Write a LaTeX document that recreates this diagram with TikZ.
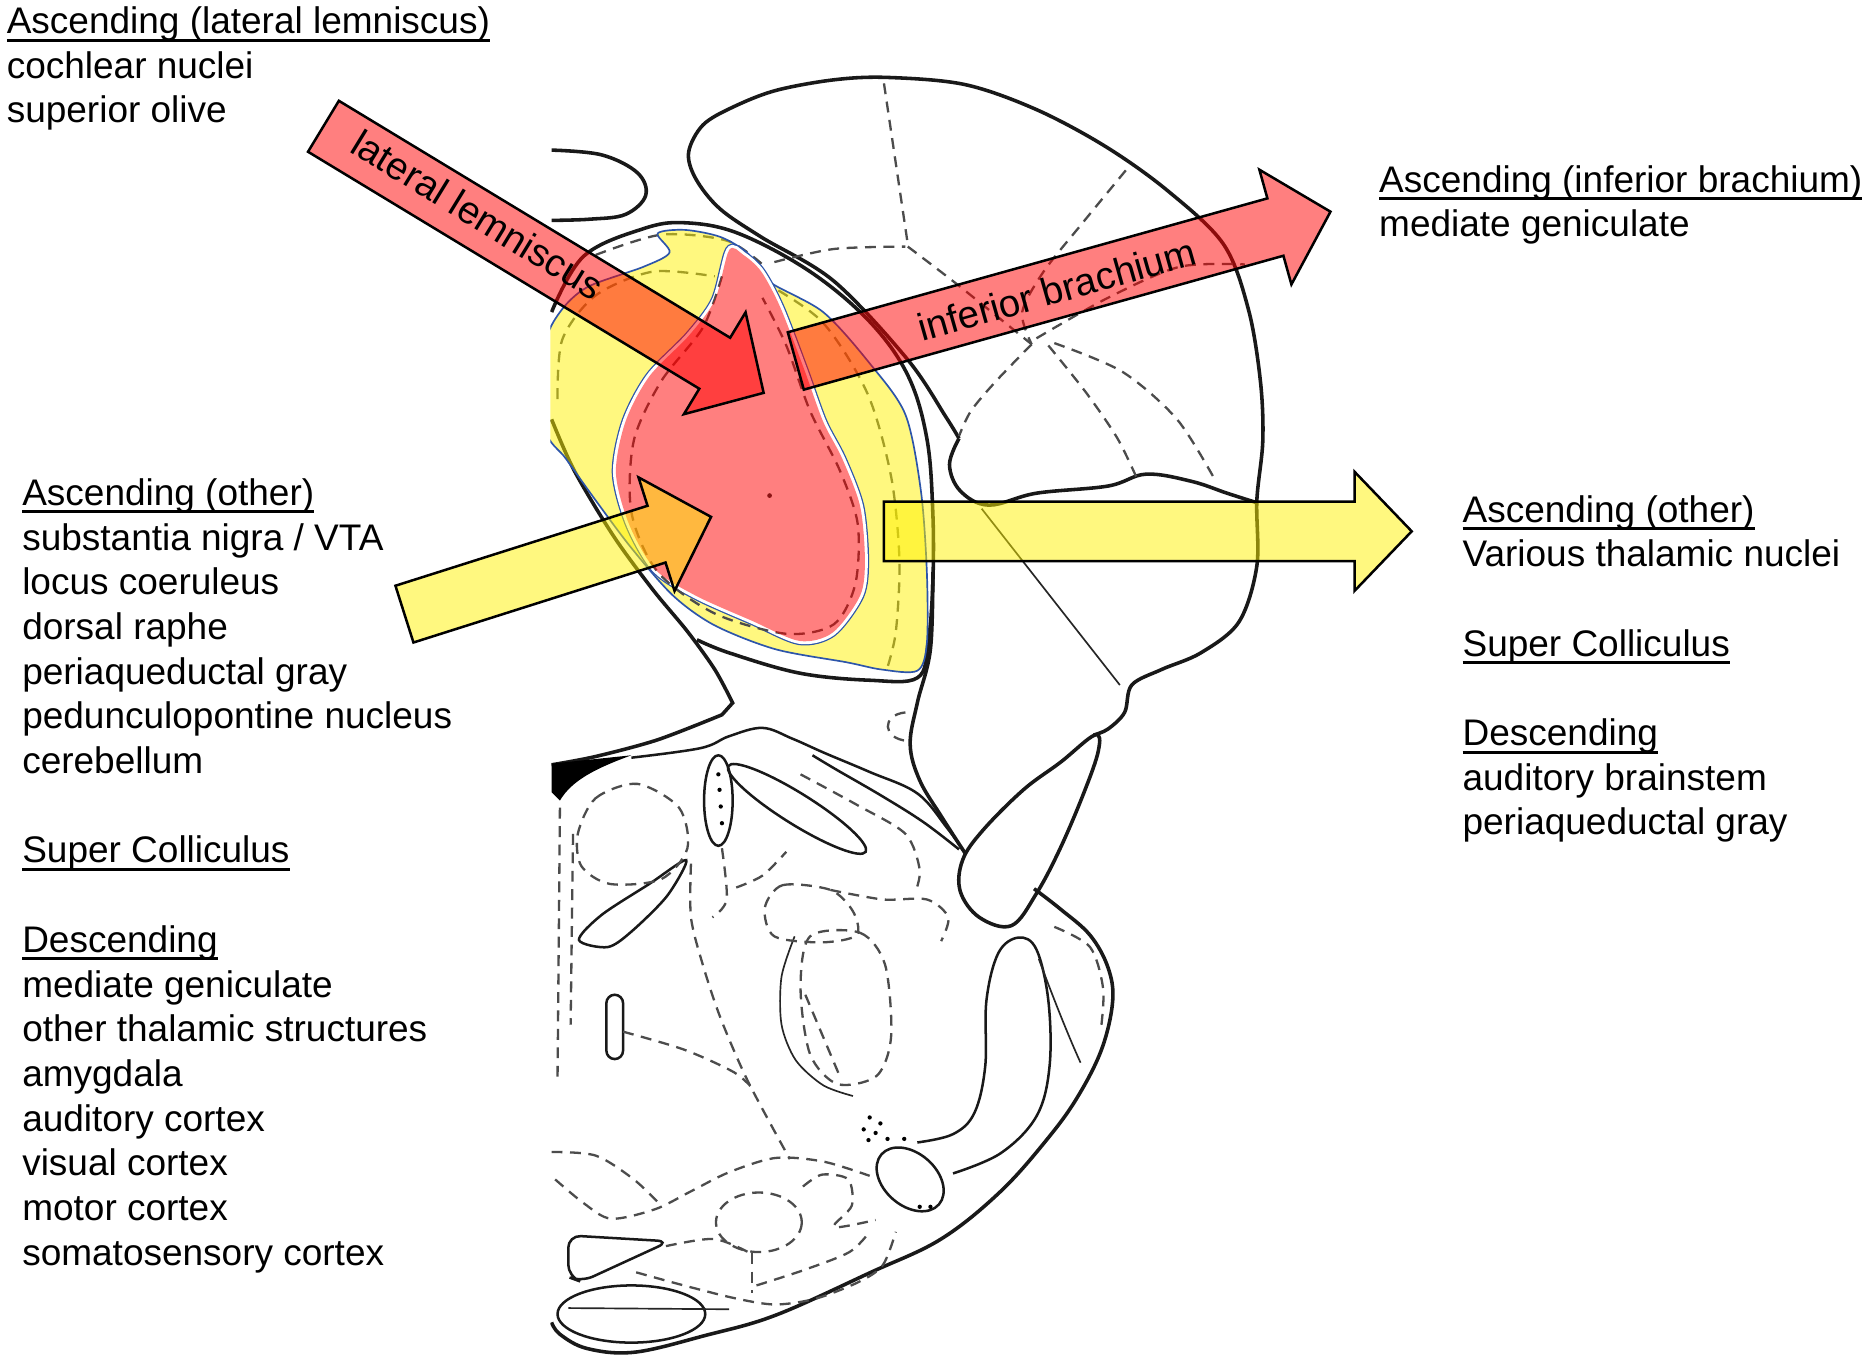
\documentclass[tikz,border=0pt]{standalone}
\usepackage{fontspec}
\setmainfont{Liberation Sans}

\definecolor{regionblue}{RGB}{45,85,170}
\definecolor{dotred}{RGB}{140,20,20}
\newcommand{\ulin}[1]{\setbox0=\hbox{#1}\rlap{\copy0}\rule[-1.9pt]{\wd0}{0.7pt}}
\newcommand{\blockarrow}[4]{\draw[#1, shift={#2}, rotate=#3] (0,25) -- ({#4-48},25) -- ({#4-48},50) -- (#4,0) -- ({#4-48},-50) -- ({#4-48},-25) -- (0,-25) -- cycle;}

\begin{document}
\begin{tikzpicture}[x=0.01cm, y=-0.01cm,
  atlas/.style={line width=0.85pt, black!90},
  midline/.style={line width=0.6pt, black!90},
  thinline/.style={line width=0.4pt, black!85},
  dashline/.style={line width=0.55pt, black!70, dash pattern=on 2.6pt off 1.8pt},
  redarrow/.style={draw=black, line width=0.6pt, fill=red, fill opacity=0.5},
  yellowarrow/.style={draw=black, line width=0.6pt, fill=yellow, fill opacity=0.5},
  txt/.style={anchor=north west, inner sep=0pt, align=left, font=\fontsize{8.83pt}{10.67pt}\selectfont},
  lbl/.style={inner sep=0pt, font=\fontsize{9.2pt}{11pt}\selectfont}]
\fill[white] (0,0) rectangle (1568,1146);
\useasboundingbox (0,0) rectangle (1568,1146);

\begin{scope}
\clip (462,0) rectangle (1568,1146);
% upper lobe and outer edge
\draw[atlas] plot[smooth, tension=0.55] coordinates {(805,368) (794,350) (762,302) (700,236) (639,199) (604,175) (584,150) (578,128) (590,105) (615,90) (651,76) (700,67) (745,65) (810,71) (870,92) (928,123) (980,160) (1027,205) (1048,260) (1058,320) (1060,370) (1055,420) (1055,475) (1040,522) (1008,548) (975,562) (950,575) (944,598) (930,612) (918,617)};
\draw[atlas] plot[smooth, tension=0.6] coordinates {(805,368) (797,390) (806,412) (830,424) (870,414) (930,408) (962,398) (1000,404) (1030,414) (1055,422)};
\draw[thinline] (824,427) -- (940,575);
\draw[atlas] plot[smooth, tension=0.6] coordinates {(463,126) (505,130) (535,145) (542,164) (525,180) (495,184) (463,185)};
% colliculus outline
\draw[atlas] plot[smooth, tension=0.6] coordinates {(463,262) (490,215) (540,192) (575,187) (620,196) (680,228) (730,270) (762,315) (778,368) (783,430) (783,490) (779,540) (770,569) (730,571) (671,565) (612,548) (585,537)};
\draw[atlas] plot[smooth, tension=0.5] coordinates {(463,352) (482,395) (515,450) (548,495) (577,530) (600,562) (615,590)} -- plot[smooth, tension=0.5] coordinates {(606,600) (552,621) (500,635) (463,642)};
\fill (463,641) -- (530,634) .. controls (500,645) and (480,655) .. (470,672) -- (463,665) -- cycle;
\draw[midline] plot[smooth, tension=0.6] coordinates {(530,636) (588,628) (612,618) (640,611) (665,620) (692,632) (730,648) (770,666) (795,695) (810,716)};
\draw[midline] plot[smooth, tension=0.6] coordinates {(682,634) (702,646) (740,668) (775,690) (805,713)};
\draw[atlas] plot[smooth, tension=0.6] coordinates {(783,480) (781,545) (770,590) (764,625) (772,655) (790,685) (810,716)};
% tongue and lower outline
\draw[atlas] plot[smooth cycle, tension=0.6] coordinates {(919,617) (890,640) (859,663) (825,697) (808,722) (806,748) (822,770) (849,777) (870,750) (890,712) (910,665) (922,630)};
\draw[atlas] plot[smooth, tension=0.6] coordinates {(868,746) (890,763) (915,785) (930,812) (934,840) (925,880) (905,920) (880,955) (840,1000) (790,1040) (731,1068) (651,1104) (592,1121) (533,1135) (493,1132) (470,1120) (463,1110)};
\draw[midline] plot[smooth, tension=0.6] coordinates {(770,959) (800,952) (818,934) (827,895) (828,840) (838,800) (855,787) (870,797) (880,840) (881,895) (870,937) (840,968) (800,985)};
\draw[thinline] (872,805) .. controls (885,840) and (897,870) .. (907,892);
\draw[dashline] plot[smooth] coordinates {(885,778) (915,795) (926,830) (924,865)};
\draw[midline, rotate around={-41:(764,990)}] (764,990) ellipse (32 and 22);
\foreach \p in {(730,938),(739,943),(725,948),(735,951),(729,957),(745,956),(759,956),(772,1013),(781,1013)}
  \fill \p circle (1.8);
% small structures
\draw[thinline] plot[smooth] coordinates {(667,786) (656,820) (656,860) (668,890) (691,911) (716,920)};
\draw[dashline] plot[smooth cycle] coordinates {(680,786) (722,783) (743,810) (748,870) (736,903) (703,910) (680,885) (672,830)};
\draw[dashline] (676,835) -- (706,906);
\draw[midline, rounded corners=2pt] (509,835) rectangle (523,889);
\draw[midline, rounded corners=3pt] (477,1037) -- (562,1042) -- (488,1076) -- (477,1072) -- cycle;
\draw[midline] (530,1103) ellipse (62 and 24);
\draw[thinline] (477,1098) -- (612,1099);
\draw[midline] plot[smooth cycle] coordinates {(486,789) (505,768) (545,742) (576,722) (560,752) (530,782) (510,795)};
\draw[midline] (603,672) ellipse (12 and 38);
\foreach \p in {(603,650),(604,663),(605,677),(606,691)}
  \fill \p circle (1.8);
\draw[midline, rotate around={-32:(669,679)}] (669,679) ellipse (68 and 13);
% dashed borders below
\draw[dashline] plot[smooth cycle] coordinates {(485,700) (500,670) (535,658) (570,678) (577,712) (555,738) (512,742) (488,727)};
\draw[dashline] (470,678) -- (468,905);
\draw[dashline] (481,700) -- (479,860);
\draw[dashline] plot[smooth] coordinates {(580,725) (580,770) (590,810) (605,855) (628,908) (663,973)};
\draw[dashline] plot[smooth] coordinates {(606,712) (610,755) (598,770)};
\draw[dashline] plot[smooth] coordinates {(523,866) (574,881) (616,900) (632,914)};
\draw[dashline] plot[smooth] coordinates {(463,967) (500,970) (532,990) (555,1012)};
\draw[dashline] plot[smooth] coordinates {(466,990) (490,1010) (513,1023) (550,1015) (580,1000) (612,984) (651,972) (691,975) (730,987)};
\draw[dashline] (637,1026) ellipse (36 and 25);
\draw[dashline] plot[smooth] coordinates {(674,996) (690,986) (712,990) (715,1012) (700,1030) (735,1024)};
\draw[dashline] plot[smooth] coordinates {(534,1068) (574,1079) (618,1090) (651,1095) (685,1090) (721,1076) (741,1062) (752,1034)};
\draw[dashline] plot[smooth] coordinates {(635,1079) (675,1066) (713,1051) (730,1034)};
\draw[dashline] plot[smooth] coordinates {(559,1046) (599,1040) (628,1051)};
\draw[dashline] (631,1052) -- (631,1085);
\draw[dashline] plot[smooth cycle] coordinates {(642,762) (657,743) (697,747) (716,765) (719,785) (690,791) (650,786)};
\draw[dashline] plot[smooth] coordinates {(697,747) (741,755) (778,755) (796,770) (790,790)};
\draw[dashline] plot[smooth] coordinates {(618,745) (640,735) (660,715)};
\draw[dashline] plot[smooth] coordinates {(672,650) (720,676) (760,700) (772,730) (768,750)};
\draw[dashline] (760,598) .. controls (740,600) and (740,620) .. (762,622);
% dashed borders in upper lobe
\draw[dashline] (742,70) -- (762,205);
\draw[dashline] plot[smooth] coordinates {(650,220) (700,209) (760,207)};
\draw[dashline] plot[smooth] coordinates {(762,207) (800,236) (835,264) (866,289)};
\draw[dashline] plot[smooth] coordinates {(945,143) (908,188) (876,228) (858,262) (866,289)};
\draw[dashline] plot[smooth] coordinates {(866,289) (836,320) (815,345) (805,366)};
\draw[dashline] plot[smooth] coordinates {(880,290) (912,330) (938,368) (955,403)};
\draw[dashline] plot[smooth] coordinates {(885,288) (942,312) (988,352) (1020,403)};
\draw[dashline] plot[smooth] coordinates {(870,284) (930,250) (990,224) (1045,222)};
% dashed borders in colliculus
\draw[dashline] plot[smooth] coordinates {(500,214) (555,197) (610,202) (640,222)};
\draw[dashline] plot[smooth] coordinates {(468,335) (472,285) (500,248) (548,228) (600,232)};
\draw[dashline] plot[smooth] coordinates {(640,236) (690,270) (728,330) (748,400) (755,470) (752,530) (745,560)};
% coloured regions
\fill[yellow, fill opacity=0.5] plot[smooth cycle, tension=0.5] coordinates {(458,290) (470,262) (493,241) (540,224) (562,212) (552,196) (575,193) (605,199) (628,213) (645,236) (691,262) (730,305) (760,348) (773,412) (778,480) (778,540) (770,563) (740,562) (711,556) (651,545) (600,525) (565,500) (530,460) (500,420) (475,385) (458,360)};
\draw[regionblue, line width=0.4pt] plot[smooth cycle, tension=0.5] coordinates {(458,290) (470,262) (493,241) (540,224) (562,212) (552,196) (575,193) (605,199) (628,213) (645,236) (691,262) (730,305) (760,348) (773,412) (778,480) (778,540) (770,563) (740,562) (711,556) (651,545) (600,525) (565,500) (530,460) (500,420) (475,385) (458,360)};
\draw[regionblue, line width=2pt] plot[smooth cycle, tension=0.5] coordinates {(612,210) (624,214) (639,228) (655,258) (675,310) (691,354) (707,385) (722,425) (726,470) (722,500) (699,531) (671,538) (631,521) (584,500) (550,478) (528,440) (517,397) (525,354) (545,316) (578,282) (600,252)};
\filldraw[white, line width=1.4pt] plot[smooth cycle, tension=0.5] coordinates {(612,210) (624,214) (639,228) (655,258) (675,310) (691,354) (707,385) (722,425) (726,470) (722,500) (699,531) (671,538) (631,521) (584,500) (550,478) (528,440) (517,397) (525,354) (545,316) (578,282) (600,252)};
\draw[dashline] plot[smooth] coordinates {(606,232) (590,275) (555,320) (532,370) (530,430) (552,480) (600,515) (660,532) (700,524) (718,490) (720,440) (705,395) (680,345) (660,290) (640,250)};
\fill[red, fill opacity=0.5] plot[smooth cycle, tension=0.5] coordinates {(612,210) (624,214) (639,228) (655,258) (675,310) (691,354) (707,385) (722,425) (726,470) (722,500) (699,531) (671,538) (631,521) (584,500) (550,478) (528,440) (517,397) (525,354) (545,316) (578,282) (600,252)};
\fill[dotred] (646,416) circle (2);
\end{scope}

% arrows
\blockarrow{redarrow}{(271.5,106)}{-31.2}{432}
\blockarrow{redarrow}{(668,303)}{15.6}{466}
\blockarrow{yellowarrow}{(339.5,515.5)}{17.6}{270}
\blockarrow{yellowarrow}{(742,446)}{0}{443}
\node (lemnlabel) [lbl, rotate=-31.5] at (401,180) {lateral lemniscus};
\node (brachlabel) [lbl, rotate=15.8] at (887,243) {inferior brachium};

% lists
\node (lemnlist) [txt] at (5,5) {\ulin{Ascending (lateral lemniscus)}\\ cochlear nuclei\\ superior olive};
\node (leftlist) [txt] at (18,401) {\ulin{Ascending (other)}\\ substantia nigra / VTA\\ locus coeruleus\\ dorsal raphe\\ periaqueductal gray\\ pedunculopontine nucleus\\ cerebellum\\[10.67pt] \ulin{Super Colliculus}\\[10.67pt] \ulin{Descending}\\ mediate geniculate\\ other thalamic structures\\ amygdala\\ auditory cortex\\ visual cortex\\ motor cortex\\ somatosensory cortex};
\node (brachlist) [txt] at (1157,138) {\ulin{Ascending (inferior brachium)}\\ mediate geniculate};
\node (rightlist) [txt] at (1227,415) {\ulin{Ascending (other)}\\ Various thalamic nuclei\\[10.67pt] \ulin{Super Colliculus}\\[10.67pt] \ulin{Descending}\\ auditory brainstem\\ periaqueductal gray};
\end{tikzpicture}
\end{document}
